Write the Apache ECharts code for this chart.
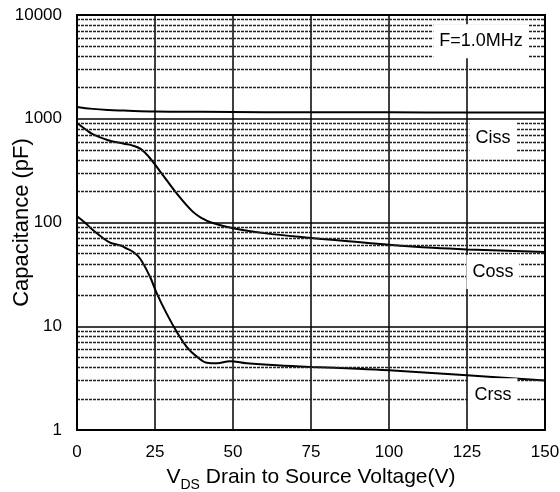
<!DOCTYPE html>
<html>
<head>
<meta charset="utf-8">
<script src="https://cdn.jsdelivr.net/npm/echarts@6/dist/echarts.min.js"></script>
<style>
html,body{margin:0;padding:0;background:#fff;}
#chart{width:560px;height:492px;}
</style>
</head>
<body>
<div id="chart"></div>
<script>
// Data
const cissV = [0, 5, 10, 15, 25, 40, 60, 80, 100, 125, 150];
const cissC = [1300, 1245, 1215, 1200, 1175, 1165, 1158, 1155, 1152, 1150, 1150];

const cossV = [0, 3, 5, 10, 15, 18, 20.5, 23, 26.5, 32, 37, 40, 43, 50, 60, 75, 87, 100, 114, 125, 150];
const cossC = [910, 780, 710, 620, 575, 550, 510, 430, 315, 190, 128, 110, 100, 88, 79, 71, 66, 61, 57, 55, 52];

const crssV = [0, 2.5, 5, 8, 10.6, 14, 16, 18, 20.2, 23.4, 25.5, 28.7, 32, 35.2, 38.4, 41.6, 44.8, 49, 54.4, 64, 75, 90, 100, 125, 150];
const crssC = [115, 100, 85, 72, 64, 60, 56, 52, 45, 30, 21, 13.3, 8.8, 6.3, 5.1, 4.45, 4.4, 4.6, 4.4, 4.2, 4.05, 3.9, 3.77, 3.37, 3.0];

const xTicks = [0, 25, 50, 75, 100, 125, 150];
const yMajor = [1, 10, 100, 1000, 10000];
const yMinor = [2,3,4,5,6,7,8,9, 20,30,40,50,60,70,80,90, 200,300,400,500,600,700,800,900, 2000,3000,4000,5000,6000,7000,8000,9000];

const labelNames = ['F=1.0MHz', 'Ciss', 'Coss', 'Crss'];
const labelV = [129.5, 133.3, 133.3, 133.3];
const labelC = [5600, 652, 33.3, 2.16];

function pairs(xs, ys) { return xs.map((x, i) => [x, ys[i]]); }

const chart = echarts.init(document.getElementById('chart'), null, {renderer: 'canvas'});
const font = 'Liberation Sans, Arial, sans-serif';

chart.setOption({
  animation: false,
  backgroundColor: '#fff',
  grid: {left: 77, right: 15, top: 15, bottom: 62, containLabel: false, outerBoundsMode: 'none',
    show: true, borderColor: '#000', borderWidth: 2, backgroundColor: 'transparent', z: 10},
  xAxis: {
    type: 'value', min: xTicks[0], max: xTicks[xTicks.length - 1], interval: 25,
    axisLine: {show: true, lineStyle: {color: '#000', width: 2}},
    axisTick: {show: false},
    axisLabel: {color: '#000', fontSize: 17, fontFamily: font, margin: 14},
    splitLine: {show: true, lineStyle: {color: '#000', width: 1.5}},
    name: '{v|V}{s|DS}{t| Drain to Source Voltage(V)}',
    nameLocation: 'middle', nameGap: 37, nameMoveOverlap: false,
    nameTextStyle: {
      rich: {
        v: {fontSize: 21, fontFamily: font, color: '#000', verticalAlign: 'bottom'},
        s: {fontSize: 14, fontFamily: font, color: '#000', verticalAlign: 'bottom', padding: [0, 0, -4, 0]},
        t: {fontSize: 21, fontFamily: font, color: '#000', verticalAlign: 'bottom'}
      }
    }
  },
  yAxis: {
    type: 'log', logBase: 10, min: yMajor[0], max: yMajor[yMajor.length - 1],
    axisLine: {show: true, lineStyle: {color: '#000', width: 2}},
    axisTick: {show: false},
    axisLabel: {color: '#000', fontSize: 17, fontFamily: font, margin: 15, formatter: v => String(v)},
    splitLine: {show: true, lineStyle: {color: '#000', width: 1.5}},
    name: 'Capacitance (pF)', nameLocation: 'middle', nameGap: 44, nameMoveOverlap: false,
    nameTextStyle: {fontSize: 22, fontFamily: font, color: '#000'}
  },
  series: [
    {
      type: 'line', data: [], z: 1, silent: true,
      markLine: {
        silent: true, symbol: 'none', animation: false,
        label: {show: false},
        lineStyle: {color: '#222', width: 1.3, type: [3, 1]},
        data: yMinor.map(v => ({yAxis: v}))
      }
    },
    {type: 'line', data: pairs(cissV, cissC), smooth: 0.4, showSymbol: false, z: 3,
      lineStyle: {color: '#000', width: 2}},
    {type: 'line', data: pairs(cossV, cossC), smooth: 0.4, showSymbol: false, z: 3,
      lineStyle: {color: '#000', width: 2}},
    {type: 'line', data: pairs(crssV, crssC), smooth: 0.4, showSymbol: false, z: 3,
      lineStyle: {color: '#000', width: 2}},
    {
      type: 'line', data: [], z: 5, silent: true,
      markPoint: {
        silent: true, animation: false, symbol: 'circle', symbolSize: 1,
        itemStyle: {color: 'rgba(0,0,0,0)'},
        label: {show: true, position: 'inside', formatter: p => p.name,
          color: '#000', fontSize: 18, fontFamily: font, backgroundColor: '#fff', padding: [8, 6]},
        data: labelNames.map((n, i) => ({name: n, coord: [labelV[i], labelC[i]]}))
      }
    }
  ]
});
</script>
</body>
</html>
